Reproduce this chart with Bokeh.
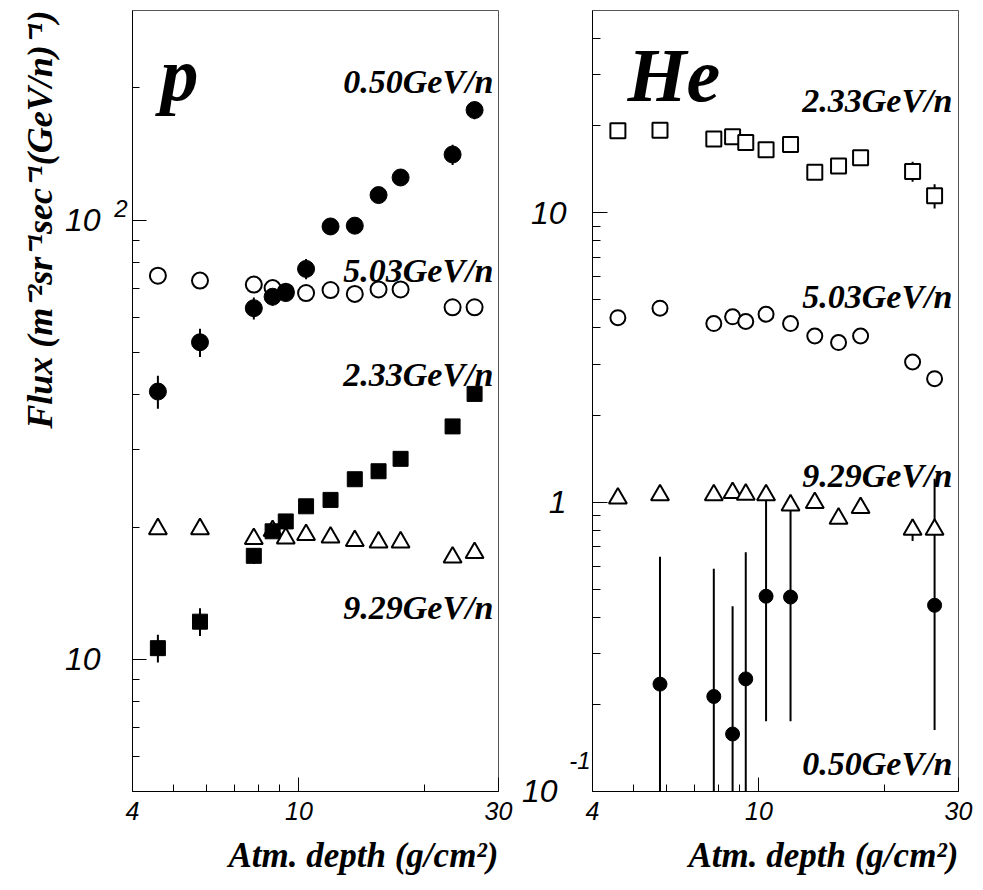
import math
from bokeh.plotting import figure
from bokeh.models import FixedTicker, Label, ColumnDataSource, Range1d, LogAxis, Title
from bokeh.layouts import row
from bokeh.embed import file_html
from bokeh.resources import INLINE

# ---------------- data ----------------
depth = [4.6, 5.8, 7.8, 8.65, 9.3, 10.4, 11.9, 13.6, 15.5, 17.5, 23.3, 26.3]

# proton fluxes
p_050 = [40.7, 52.7, 63.0, 66.9, 68.2, 77.4, 96.7, 97.1, 114.0, 125.0, 141.0, 178.0]
p_050_err = [3.5, 3.9, 3.6, 3.1, 2.9, 4.1, 4.1, 4.1, 4.2, 4.0, 7.5, 8.3]
p_503 = [74.7, 72.8, 71.3, 70.0, 68.7, 68.2, 69.3, 67.9, 69.5, 69.5, 63.3, 63.3]
p_503_err = [1.3, 1.3, 1.2, 1.2, 1.2, 1.2, 1.2, 1.2, 1.2, 1.2, 1.3, 1.4]
p_233 = [10.6, 12.18, 17.2, 19.56, 20.6, 22.3, 23.06, 25.7, 26.8, 28.6, 33.9, 40.2]
p_233_err = [0.77, 0.88, 0.72, 0.5, 0.55, 0.6, 0.6, 0.7, 0.7, 0.75, 0.9, 1.0]
p_929 = [19.8, 19.8, 18.8, 19.6, 18.86, 19.2, 18.95, 18.6, 18.47, 18.47, 17.07, 17.47]
p_929_err = [0.4, 0.4, 0.4, 0.4, 0.4, 0.4, 0.4, 0.4, 0.4, 0.4, 0.45, 0.45]

# helium fluxes
he_233 = [19.2, 19.3, 18.0, 18.3, 17.5, 16.5, 17.2, 13.8, 14.5, 15.5, 13.9, 11.45]
he_233_err = [0.6, 0.6, 0.6, 0.6, 0.6, 0.6, 0.6, 0.6, 0.6, 0.6, 1.1, 1.1]
he_503 = [4.34, 4.68, 4.14, 4.37, 4.21, 4.46, 4.14, 3.75, 3.56, 3.75, 3.05, 2.67]
he_503_err = [0.12, 0.12, 0.11, 0.11, 0.11, 0.12, 0.11, 0.1, 0.1, 0.1, 0.1, 0.1]
he_929 = [1.03, 1.057, 1.057, 1.077, 1.063, 1.057, 0.976, 0.994, 0.878, 0.956, 0.804, 0.804]
he_929_err = [0.03, 0.03, 0.03, 0.03, 0.03, 0.03, 0.03, 0.03, 0.03, 0.03, 0.07, 0.03]
he_050_depth = [5.8, 7.8, 8.65, 9.3, 10.4, 11.9, 26.3]
he_050 = [0.235, 0.213, 0.158, 0.245, 0.473, 0.470, 0.440]
he_050_err_up = [0.412, 0.375, 0.279, 0.426, 0.58, 0.58, 0.764]
he_050_err_dn = [0.235, 0.213, 0.158, 0.245, 0.298, 0.295, 0.277]

x_ticks = [4, 10, 30]
x_minor = [5, 6, 7, 8, 9, 20]
p_y_ticks = [10, 100]
p_y_minor = [6, 7, 8, 9, 20, 30, 40, 50, 60, 70, 80, 90, 200]
he_y_ticks = [0.1, 1, 10]
he_y_minor = [0.2, 0.3, 0.4, 0.5, 0.6, 0.7, 0.8, 0.9, 2, 3, 4, 5, 6, 7, 8, 9, 20, 30, 40]

# tick label texts: mantissa part and (ROOT style) raised exponent part
p_y_labels = {10: "10", 100: "10"}
p_y_exponent = "2"        # exponent of the 100 tick
he_y_labels = {0.1: "10\u00a0", 1: "1", 10: "10"}
he_y_exponent = "-1"      # exponent of the 0.1 tick

XTITLE = "Atm. depth (g/cm\u00b2)"
YTITLE = "Flux (m\u207b\u00b2sr\u207b\u00b9sec\u207b\u00b9(GeV/n)\u207b\u00b9)"

X_LO, X_HI = 4.0, 30.0
P_YLO, P_YHI = 5.0, 300.0
HE_YLO, HE_YHI = 0.1, 50.0

# ---------------- layout helpers (page pixel -> data) ----------------
FRAME_TOP, FRAME_H, FRAME_W = 10.0, 781.0, 366.0
P_LEFT, HE_LEFT = 132.0, 592.0
H = 890


def px_to_x(px, frame_left):
    return X_LO * 10 ** ((px - frame_left) / FRAME_W * math.log10(X_HI / X_LO))


def py_to_y(py, ylo, yhi):
    return 10 ** (math.log10(yhi) - (py - FRAME_TOP) / FRAME_H * (math.log10(yhi) - math.log10(ylo)))


SERIF = "Liberation Serif"
SANS = "Liberation Sans"


def title(text, size, standoff):
    return Title(text=text, align="right", text_font=SERIF, text_font_style="bold italic",
                 text_font_size=size, text_color="black", standoff=standoff)


def label_only_axis(ticks, overrides, size, standoff):
    ax = LogAxis(ticker=FixedTicker(ticks=ticks, minor_ticks=[]),
                 major_label_overrides=overrides)
    ax.axis_line_color = None
    ax.major_tick_line_color = None
    ax.minor_tick_line_color = None
    ax.major_tick_in = 0
    ax.major_tick_out = 0
    ax.minor_tick_in = 0
    ax.minor_tick_out = 0
    ax.major_label_standoff = standoff
    ax.major_label_text_font = SANS
    ax.major_label_text_font_style = "italic"
    ax.major_label_text_font_size = size
    ax.major_label_text_color = "black"
    return ax


def make_fig(width, bl, br, ylo, yhi, yticks, yminor, ytick_len):
    p = figure(width=width, height=H, x_axis_type="log", y_axis_type="log",
               x_range=Range1d(X_LO * 0.99999, X_HI * 1.00001),
               y_range=Range1d(ylo * 0.99999, yhi),
               output_backend="svg", toolbar_location=None,
               min_border_left=bl, min_border_right=br,
               min_border_top=int(FRAME_TOP), min_border_bottom=H - int(FRAME_TOP) - int(FRAME_H))
    p.grid.visible = False
    p.outline_line_color = "#555555"
    p.outline_line_width = 1
    p.background_fill_color = "white"
    p.border_fill_color = "white"

    xa = p.xaxis[0]
    xa.ticker = FixedTicker(ticks=x_ticks, minor_ticks=x_minor)
    xa.major_label_overrides = {t: str(t) for t in x_ticks}
    xa.major_tick_in = 14
    xa.major_tick_out = 0
    xa.minor_tick_in = 7
    xa.minor_tick_out = 0
    xa.major_label_standoff = 10
    xa.major_label_text_font = SANS
    xa.major_label_text_font_style = "italic"
    xa.major_label_text_font_size = "25px"
    xa.major_label_text_color = "black"

    # innermost y axis: only the tick marks
    ya = p.yaxis[0]
    ya.ticker = FixedTicker(ticks=yticks, minor_ticks=yminor)
    ya.major_label_overrides = {t: "" for t in yticks}
    ya.major_label_text_font_size = "1px"
    ya.major_label_standoff = 0
    ya.major_tick_in = ytick_len
    ya.major_tick_out = 0
    ya.minor_tick_in = 8 if ytick_len > 14 else 7
    ya.minor_tick_out = 0
    for ax in (xa, ya):
        ax.axis_line_color = "black"
        ax.major_tick_line_color = "black"
        ax.minor_tick_line_color = "black"
    p.add_layout(title(XTITLE, "35px", 23), "below")
    return p


def errbars(p, xs, lo, hi):
    src = ColumnDataSource(dict(x=xs, lo=lo, hi=hi))
    p.segment(x0="x", y0="lo", x1="x", y1="hi", source=src, line_color="black", line_width=2)


def sym(ys, es):
    return [y - e for y, e in zip(ys, es)], [y + e for y, e in zip(ys, es)]


def label(p, x, y, text, size, align="left"):
    p.add_layout(Label(x=x, y=y, text=text, text_font=SERIF, text_font_size=size,
                       text_font_style="bold italic", text_align=align, text_baseline="alphabetic",
                       text_color="black"))


# ---------------- left panel: protons ----------------
LW = 518
pL = make_fig(LW, int(P_LEFT), LW - int(P_LEFT) - int(FRAME_W), P_YLO, P_YHI, p_y_ticks, p_y_minor, 14)
exp_val = py_to_y(208.5, P_YLO, P_YHI)
pL.add_layout(label_only_axis([exp_val], {exp_val: p_y_exponent}, "24px", 5), "left")
pL.add_layout(label_only_axis(p_y_ticks, p_y_labels, "32px", 11), "left")
pL.add_layout(title(YTITLE, "36px", 3), "left")

for ys, es in ((p_503, p_503_err), (p_929, p_929_err), (p_050, p_050_err), (p_233, p_233_err)):
    lo, hi = sym(ys, es)
    errbars(pL, depth, lo, hi)

pL.scatter(depth, p_503, marker="circle", size=16, fill_color="white", line_color="black", line_width=2)
pL.scatter(depth, p_929, marker="triangle", size=18, fill_color="white", line_color="black", line_width=2)
pL.scatter(depth, p_050, marker="circle", size=17, fill_color="black", line_color="black")
pL.scatter(depth, p_233, marker="square", size=15, fill_color="black", line_color="black")

label(pL, px_to_x(160, P_LEFT), py_to_y(74, P_YLO, P_YHI), "p", "76px")
label(pL, px_to_x(493, P_LEFT), py_to_y(81, P_YLO, P_YHI), "0.50GeV/n", "34px", "right")
label(pL, px_to_x(493, P_LEFT), py_to_y(270, P_YLO, P_YHI), "5.03GeV/n", "34px", "right")
label(pL, px_to_x(493, P_LEFT), py_to_y(374, P_YLO, P_YHI), "2.33GeV/n", "34px", "right")
label(pL, px_to_x(493, P_LEFT), py_to_y(607, P_YLO, P_YHI), "9.29GeV/n", "34px", "right")

# ---------------- right panel: helium ----------------
RW = 983 - LW
pR = make_fig(RW, int(HE_LEFT) - LW, RW - (int(HE_LEFT) - LW) - int(FRAME_W), HE_YLO, HE_YHI,
              he_y_ticks, he_y_minor, 15)
exp_val_he = py_to_y(760, HE_YLO, HE_YHI)
pR.add_layout(label_only_axis([exp_val_he], {exp_val_he: he_y_exponent}, "24px", 2), "left")
pR.add_layout(label_only_axis(he_y_ticks, he_y_labels, "32px", 0), "left")

for ys, es in ((he_233, he_233_err), (he_503, he_503_err), (he_929, he_929_err)):
    lo, hi = sym(ys, es)
    errbars(pR, depth, lo, hi)
he_lo = [max(y - e, 0.01) for y, e in zip(he_050, he_050_err_dn)]
he_hi = [y + e for y, e in zip(he_050, he_050_err_up)]
errbars(pR, he_050_depth, he_lo, he_hi)

pR.scatter(depth, he_233, marker="square", size=15, fill_color="white", line_color="black", line_width=2)
pR.scatter(depth, he_503, marker="circle", size=15, fill_color="white", line_color="black", line_width=2)
pR.scatter(depth, he_929, marker="triangle", size=18, fill_color="white", line_color="black", line_width=2)
pR.scatter(he_050_depth, he_050, marker="circle", size=14, fill_color="black", line_color="black")

label(pR, px_to_x(627, HE_LEFT), py_to_y(75, HE_YLO, HE_YHI), "He", "76px")
label(pR, px_to_x(952, HE_LEFT), py_to_y(100, HE_YLO, HE_YHI), "2.33GeV/n", "34px", "right")
label(pR, px_to_x(952, HE_LEFT), py_to_y(296, HE_YLO, HE_YHI), "5.03GeV/n", "34px", "right")
label(pR, px_to_x(952, HE_LEFT), py_to_y(475, HE_YLO, HE_YHI), "9.29GeV/n", "34px", "right")
label(pR, px_to_x(952, HE_LEFT), py_to_y(763, HE_YLO, HE_YHI), "0.50GeV/n", "34px", "right")

layout = row(pL, pR)
open("out.html", "w").write(file_html(layout, INLINE))
